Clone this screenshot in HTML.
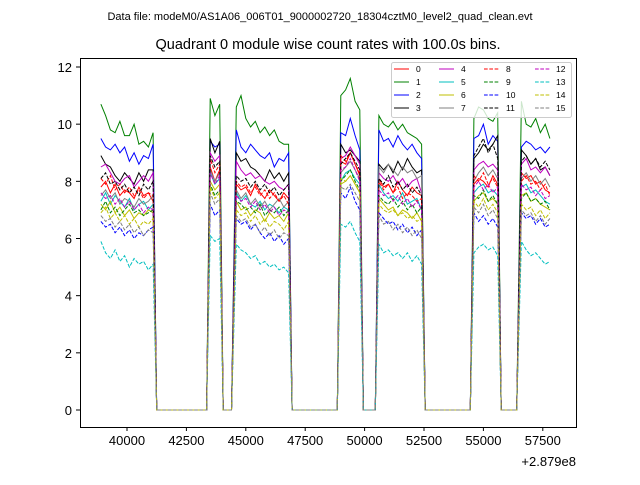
<!DOCTYPE html>
<html><head><meta charset="utf-8"><style>
body{margin:0;background:#fff;}
svg text{font-family:"Liberation Sans","DejaVu Sans",sans-serif;}
</style></head><body>
<svg id="chart" width="640" height="480" xmlns="http://www.w3.org/2000/svg">
<rect width="640" height="480" fill="#fff"/>
<text x="320" y="20" font-size="11" text-anchor="middle">Data file: modeM0/AS1A06_006T01_9000002720_18304cztM0_level2_quad_clean.evt</text>
<text x="328" y="49" font-size="14.5" text-anchor="middle">Quadrant 0 module wise count rates with 100.0s bins.</text>
<g id="plot"></g>
<rect x="80.5" y="58.5" width="496" height="369" fill="none" stroke="#000" stroke-width="1"/>
<g id="ticks"></g>
<text x="576" y="466" font-size="13" text-anchor="end">+2.879e8</text>
<g id="legend"></g>
</svg>
<script>
const xTicks=[40000,42500,45000,47500,50000,52500,55000,57500];
const yTicks=[0,2,4,6,8,10,12];
const onTimes=[38900,39100,39300,39500,39700,39900,40100,40300,40500,40700,40900,41100,
43500,43700,43900,
44600,44800,45000,45200,45400,45600,45800,46000,46200,46400,46600,46800,
49000,49200,49400,49600,49800,
50600,50800,51000,51200,51400,51600,51800,52000,52200,52400,
54600,54800,55000,55200,55400,55600,
56600,56800,57000,57200,57400,57600,57800];
const zeroTimes=[41250,43350,44050,44400,46950,48850,49950,50450,52550,54450,55750,56400];
const s0=[7.8,8.0,7.6,7.9,7.5,7.7,7.6,7.4,7.8,7.5,7.6,7.3, 8.5,8.0,8.4, 7.9,7.7,7.8,7.5,7.9,7.6,7.4,7.7,7.5,7.3,7.6,7.4, 8.7,8.6,9.0,8.6,8.2, 8.1,7.8,7.9,7.6,8.0,7.7,7.5,7.8,7.6,7.5, 7.9,8.1,8.0,7.8,8.2,7.9, 8.3,8.1,8.2,7.9,8.0,7.7,7.6];
const s1=[10.7,10.3,9.8,9.7,10.1,9.6,9.6,10.0,9.3,9.4,9.2,9.7, 10.9,10.3,10.7, 10.6,11.0,10.2,9.9,10.1,9.7,9.9,9.6,9.8,9.4,9.3,9.3, 11.0,11.2,11.6,10.8,10.5, 10.3,10.0,9.9,10.1,9.8,10.0,9.7,9.6,9.5,9.3, 10.2,10.6,10.5,10.2,10.1,10.4, 10.8,10.0,9.9,10.2,9.7,10.0,9.5];
const s2=[9.5,9.2,9.1,9.3,9.0,9.2,8.7,9.0,8.6,8.9,8.8,9.3, 9.4,9.2,9.3, 9.8,9.2,9.0,9.3,9.1,8.9,8.8,9.0,8.5,8.8,8.7,9.0, 9.7,9.6,10.2,9.6,9.1, 9.8,9.4,9.5,9.2,9.6,9.3,9.1,9.3,9.0,8.8, 9.5,9.6,10.0,9.3,9.6,9.4, 9.2,9.4,9.3,9.1,9.2,9.0,9.2];
const s3=[8.9,8.6,8.5,8.2,8.0,8.3,8.1,7.9,8.3,8.0,8.4,8.4, 9.5,9.0,9.4, 9.0,8.7,8.8,8.5,8.4,8.2,8.0,8.4,8.1,8.3,8.0,8.3, 9.3,9.0,9.1,8.9,8.7, 8.6,8.4,8.6,8.3,8.7,8.4,8.8,8.5,8.3,8.4, 8.8,9.0,9.3,9.1,9.3,9.6, 9.1,8.9,8.6,8.8,8.4,8.5,8.2];
const s4=[8.5,8.6,8.3,8.0,7.9,8.1,8.2,7.8,8.0,8.2,8.0,8.3, 9.0,8.7,8.9, 8.7,8.4,8.2,8.3,8.1,8.2,8.0,7.9,8.0,7.8,7.7,7.9, 8.8,8.9,9.2,8.9,8.6, 8.3,8.1,8.0,8.2,7.9,8.1,7.8,8.0,8.1,7.6, 8.4,8.6,8.7,8.5,8.6,8.4, 8.6,8.8,8.4,8.5,8.3,8.5,8.2];
const s5=[7.3,7.6,7.2,7.5,7.3,7.1,7.4,7.0,7.2,7.3,7.0,7.2, 8.3,7.9,8.1, 7.6,7.3,7.5,7.2,7.1,7.3,7.0,7.2,7.1,6.9,7.1,7.0, 8.0,8.3,8.4,8.1,7.9, 7.9,7.6,7.4,7.5,7.3,7.6,7.2,7.3,7.4,7.0, 7.6,7.8,7.9,7.6,7.7,7.5, 7.8,7.9,7.6,7.7,7.5,7.3,7.2];
const s6=[7.2,7.0,7.3,6.9,7.1,6.8,7.0,6.7,6.9,6.8,7.0,6.9, 8.0,7.7,7.9, 7.3,7.0,7.1,6.8,7.0,6.9,6.6,6.9,6.7,6.8,6.6,6.9, 7.9,8.0,8.2,7.9,7.6, 7.4,7.2,7.0,7.1,6.8,7.0,6.9,6.7,6.9,6.6, 7.3,7.5,7.6,7.3,7.4,7.2, 7.5,7.6,7.3,7.4,7.2,7.1,7.0];
const s7=[7.5,7.7,7.4,7.6,7.2,7.4,7.3,7.1,7.4,7.2,7.3,7.5, 8.4,8.0,8.3, 7.7,7.4,7.6,7.2,7.4,7.1,7.3,7.0,7.2,7.4,7.1,7.3, 8.3,8.5,8.7,8.4,8.1, 8.5,8.3,8.6,8.4,8.2,8.5,8.3,8.4,8.1,8.2, 8.0,8.3,8.5,8.2,8.4,8.1, 8.1,8.3,8.0,8.2,7.9,8.1,7.8];
const s8=[8.1,7.9,8.2,7.7,7.9,7.6,7.8,7.5,7.7,7.4,7.6,7.5, 8.8,8.3,8.6, 8.0,7.8,7.9,7.6,7.8,7.5,7.7,7.4,7.6,7.3,7.5,7.2, 8.9,8.7,9.0,8.6,8.3, 8.0,7.7,7.9,7.6,7.8,7.4,7.6,7.5,7.3,7.4, 8.2,8.0,8.3,7.9,8.1,7.8, 8.0,8.2,7.9,8.0,7.7,7.9,7.5];
const s9=[7.0,7.3,6.9,7.1,6.8,7.0,7.2,6.9,7.0,6.8,6.9,7.0, 7.9,7.5,7.7, 7.3,7.2,7.0,7.1,6.9,7.2,6.8,7.0,6.9,7.1,6.8,7.0, 8.0,8.2,8.4,8.0,7.7, 7.5,7.3,7.2,7.4,7.1,7.3,7.0,7.2,6.9,7.1, 7.5,7.4,7.7,7.3,7.5,7.2, 7.4,7.6,7.3,7.4,7.2,7.3,7.0];
const s10=[6.6,6.4,6.5,6.2,6.4,6.1,6.3,6.0,6.2,6.1,6.3,6.4, 7.2,6.8,7.0, 6.7,6.5,6.6,6.3,6.5,6.2,6.0,6.2,5.9,6.1,5.8,6.0, 7.6,7.4,7.8,7.3,7.0, 6.9,6.7,6.5,6.6,6.3,6.5,6.2,6.4,6.1,6.3, 6.9,6.6,6.8,6.5,6.7,6.4, 6.9,6.7,6.8,6.5,6.7,6.4,6.5];
const s11=[8.1,8.3,7.9,8.0,7.7,7.9,7.6,7.8,7.5,7.9,7.7,8.0, 8.9,8.5,8.7, 8.2,8.0,8.1,7.8,8.0,7.7,7.9,7.6,7.8,7.5,7.7,7.9, 8.6,8.8,9.0,8.7,8.4, 8.1,7.9,8.2,7.8,8.0,7.7,7.9,7.6,7.8,7.5, 8.9,9.2,9.5,9.0,9.3,8.8, 8.7,8.9,8.6,8.8,8.5,8.7,8.4];
const s12=[7.6,7.4,7.5,7.2,7.4,7.1,7.3,7.0,7.2,6.9,7.1,7.0, 8.3,7.9,8.2, 7.5,7.3,7.4,7.1,7.3,7.0,7.2,6.9,7.1,6.8,7.0,6.9, 8.4,8.5,8.8,8.4,8.0, 7.7,7.5,7.6,7.3,7.5,7.2,7.4,7.1,7.3,7.0, 7.8,8.0,7.7,7.9,7.6,7.8, 7.9,7.7,7.8,7.5,7.7,7.4,7.5];
const s13=[5.9,5.5,5.3,5.6,5.2,5.4,5.0,5.3,5.1,5.2,4.9,5.1, 6.1,5.9,6.0, 5.8,5.6,5.5,5.3,5.4,5.1,5.2,5.0,5.1,4.9,5.0,4.8, 6.5,6.4,6.6,6.2,5.9, 5.8,5.5,5.6,5.4,5.5,5.3,5.5,5.2,5.4,5.1, 5.5,5.7,5.8,5.6,5.7,5.4, 5.9,5.6,5.4,5.5,5.3,5.1,5.2];
const s14=[6.9,7.1,6.7,6.9,6.6,6.8,6.5,6.7,6.4,6.6,6.5,6.7, 7.8,7.4,7.6, 7.0,6.8,6.9,6.6,6.8,6.5,6.7,6.4,6.6,6.5,6.3,6.6, 8.1,8.0,8.2,7.9,7.6, 7.2,7.0,6.9,7.0,6.8,6.9,6.7,6.8,6.6,6.7, 7.3,7.1,7.4,7.0,7.2,6.9, 7.2,7.0,7.1,6.8,7.0,6.7,6.9];
const s15=[6.8,6.6,6.7,6.4,6.6,6.3,6.5,6.2,6.4,6.1,6.3,6.2, 7.6,7.2,7.4, 6.8,6.6,6.7,6.4,6.5,6.2,6.4,6.1,6.3,6.0,6.2,6.1, 7.8,7.7,7.9,7.6,7.3, 6.8,6.5,6.6,6.3,6.5,6.2,6.4,6.1,6.3,6.0, 7.1,6.9,7.2,6.8,7.0,6.7, 7.0,6.8,6.9,6.6,6.8,6.5,6.7];
const series=[s0,s1,s2,s3,s4,s5,s6,s7,s8,s9,s10,s11,s12,s13,s14,s15];
const labels=["0","1","2","3","4","5","6","7","8","9","10","11","12","13","14","15"];
const colors=["#ff0000","#008000","#0000ff","#000000","#bf00bf","#00bfbf","#bfbf00","#808080"];

const NS="http://www.w3.org/2000/svg";
const xS=t=>127+(t-40000)*59.4/2500;
const yS=v=>410-v*(343/12);
function mk(tag,attrs,parent){const e=document.createElementNS(NS,tag);for(const k in attrs)e.setAttribute(k,attrs[k]);parent.appendChild(e);return e;}
const plot=document.getElementById('plot');
const ticks=document.getElementById('ticks');
series.forEach((vals,i)=>{
  const pts=onTimes.map((t,j)=>[t,vals[j]]).concat(zeroTimes.map(t=>[t,0])).sort((a,b)=>a[0]-b[0]);
  const d=pts.map((p,j)=>(j?'L':'M')+xS(p[0]).toFixed(1)+' '+yS(p[1]).toFixed(1)).join(' ');
  const p=mk('path',{d:d,fill:'none',stroke:colors[i%8],'stroke-width':1,'stroke-dasharray':i>=8?'3.7 1.6':'none'},plot);
  
  
});
xTicks.forEach(t=>{
  const x=xS(t);
  const l=mk('line',{x1:x,x2:x,y1:427,y2:431,stroke:'#000'},ticks);
  
  
  const tx=mk('text',{x:x,y:445,'font-size':13,'text-anchor':'middle'},ticks);
  tx.textContent=t;
  
  
});
yTicks.forEach(v=>{
  const y=yS(v);
  const l=mk('line',{x1:76,x2:80,y1:y,y2:y,stroke:'#000'},ticks);
  
  
  const tx=mk('text',{x:72,y:y+5,'font-size':13,'text-anchor':'end'},ticks);
  tx.textContent=v;
  
  
});
const lg=document.getElementById('legend');
const box=mk('rect',{x:391.5,y:62.5,width:180,height:55,rx:2,fill:'#fff','fill-opacity':0.8,stroke:'#ccc'},lg);


const colX=[394,439,484,535];
labels.forEach((lab,i)=>{
  const c=Math.floor(i/4),r=i%4;
  const y=69+r*13;
  const g=mk('g',{},lg);
  
  
  mk('line',{x1:colX[c],x2:colX[c]+15,y1:y,y2:y,stroke:colors[i%8],'stroke-width':1,'stroke-dasharray':i>=8?'3.7 1.6':'none'},g);
  const t=mk('text',{x:colX[c]+(c==3?21:22),y:y+3,'font-size':8.5},g);
  t.textContent=lab;
});
</script>
</body></html>
